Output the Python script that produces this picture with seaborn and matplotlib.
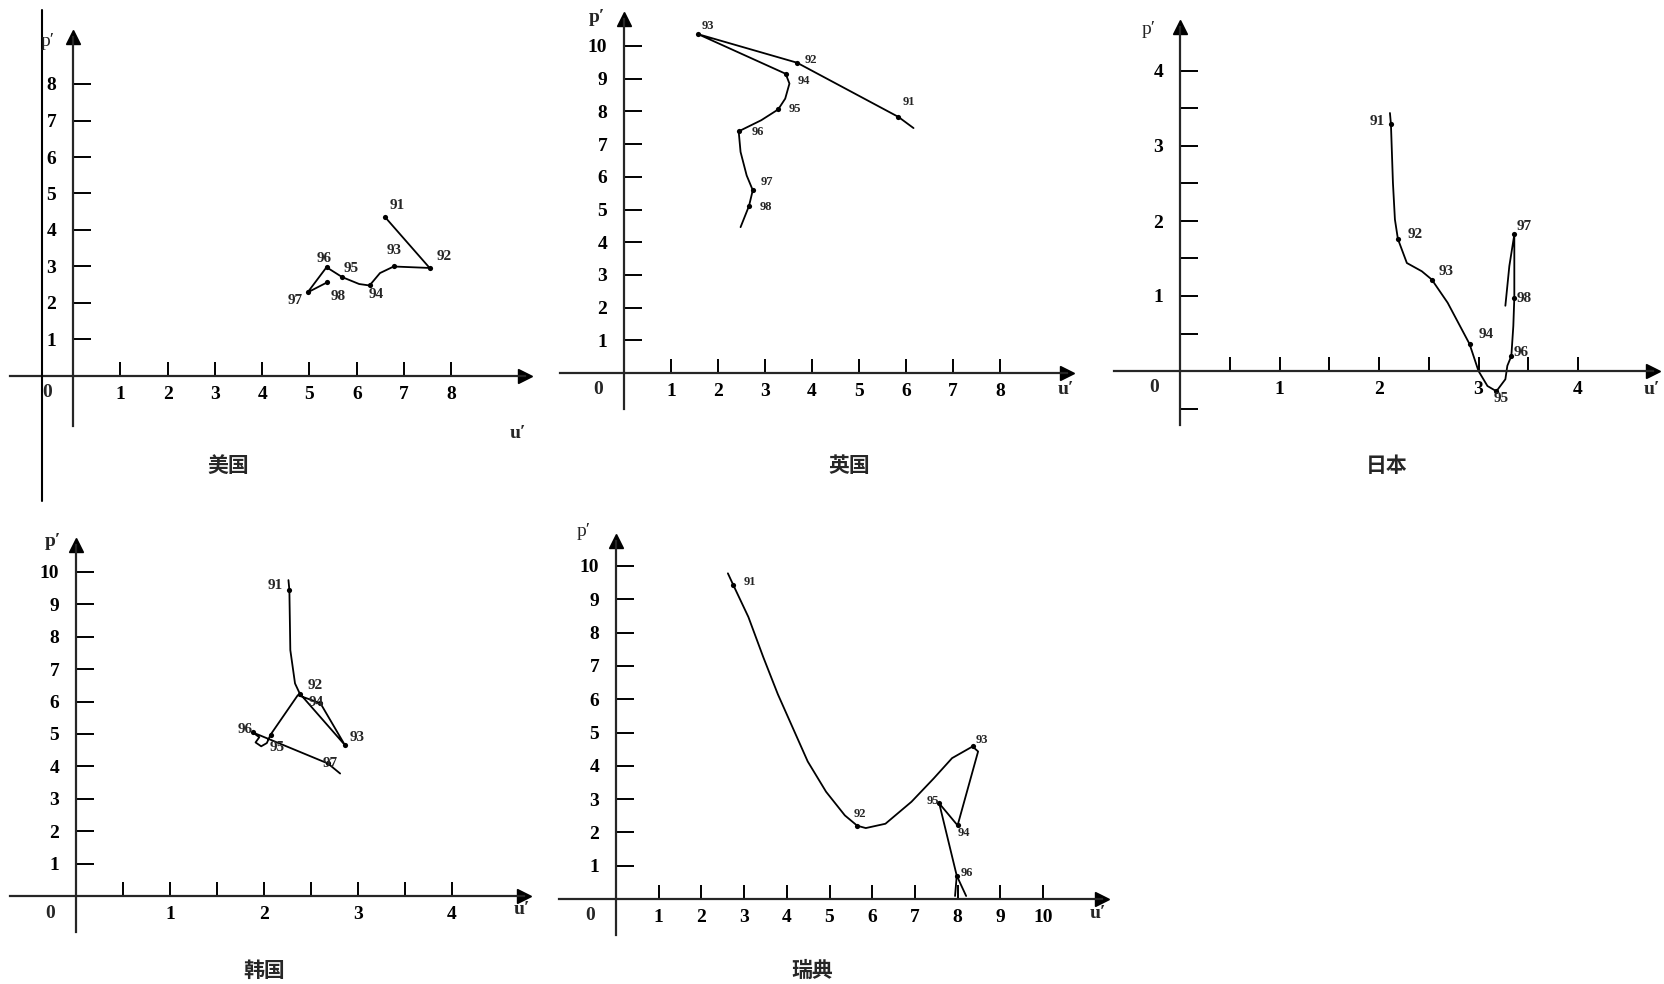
import pandas as pd
import matplotlib.pyplot as plt
from matplotlib.lines import Line2D
import seaborn as sns

# 美国 (u' = unemployment change, p' = inflation)
us_u = [6.60, 7.54, 6.78, 6.49, 6.27, 6.05, 5.69, 5.36, 4.96, 5.38]
us_p = [4.35, 2.96, 3.00, 2.82, 2.48, 2.52, 2.71, 2.98, 2.29, 2.57]
us_lab = ["91", "92", "93", "", "94", "", "95", "96", "97", "98"]

# 英国
uk_u = [6.16, 5.84, 3.68, 1.58, 3.44, 3.52, 3.43, 3.28, 2.92, 2.44, 2.48, 2.61, 2.74, 2.66, 2.48]
uk_p = [7.49, 7.83, 9.49, 10.36, 9.15, 8.85, 8.39, 8.06, 7.73, 7.39, 6.76, 6.04, 5.59, 5.11, 4.46]
uk_lab = ["", "91", "92", "93", "94", "", "", "95", "", "96", "", "", "97", "98", ""]

# 日本
jp_u = [2.11, 2.12, 2.14, 2.16, 2.19, 2.28, 2.43, 2.53, 2.69, 2.91, 3.00, 3.09, 3.18,
        3.27, 3.29, 3.33, 3.35, 3.36, 3.36, 3.31, 3.27]
jp_p = [3.44, 3.29, 2.51, 2.02, 1.76, 1.44, 1.33, 1.22, 0.91, 0.36, 0.00, -0.20, -0.27,
        -0.11, 0.07, 0.20, 0.60, 0.98, 1.82, 1.40, 0.87]
jp_lab = ["", "91", "", "", "92", "", "", "93", "", "94", "", "", "95",
          "", "", "96", "", "98", "97", "", ""]

# 韩国
kr_u = [2.26, 2.27, 2.28, 2.33, 2.38, 2.86, 2.60, 2.36, 2.07, 2.03, 1.97, 1.91, 1.95, 1.88, 2.68, 2.81]
kr_p = [9.75, 9.44, 7.59, 6.56, 6.25, 4.66, 5.95, 6.20, 4.98, 4.72, 4.62, 4.74, 4.90, 5.05, 4.09, 3.78]
kr_lab = ["", "91", "", "", "92", "93", "94", "", "95", "", "", "", "", "96", "97", ""]

# 瑞典
se_u = [2.62, 2.75, 3.10, 3.45, 3.79, 4.14, 4.49, 4.92, 5.36, 5.65, 5.85, 6.31, 6.92,
        7.44, 7.87, 8.35, 8.48, 8.00, 7.57, 7.98, 8.20]
se_p = [9.78, 9.42, 8.47, 7.26, 6.15, 5.14, 4.13, 3.22, 2.51, 2.20, 2.13, 2.26, 2.92,
        3.62, 4.23, 4.58, 4.43, 2.21, 2.87, 0.70, 0.09]
se_lab = ["", "91", "", "", "", "", "", "", "", "92", "", "", "",
          "", "", "93", "", "94", "95", "96", ""]
se_branch_u = [7.98, 7.94]
se_branch_p = [0.70, 0.09]

W, H = 1664, 984

sns.set_style("white")
plt.rcParams['font.family'] = ['Liberation Serif', 'Noto Sans CJK SC', 'DejaVu Serif']

fig = plt.figure(figsize=(W / 100, H / 100), dpi=100)


def fig_text(x, y, s, **kw):
    fig.text(x / W, 1 - y / H, s, ha="center", va="center", **kw)


def panel(box, origin, unit, xticks, xlabels, yticks, ylabels):
    x0, x1, yt, yb = box
    # leave room so the arrow tips end where the drawn axes end
    x1, yt = x1 - 7, yt + 7
    ax = fig.add_axes([x0 / W, 1 - yb / H, (x1 - x0) / W, (yb - yt) / H])
    ax.set_xlim((x0 - origin[0]) / unit[0], (x1 - origin[0]) / unit[0])
    ax.set_ylim((origin[1] - yb) / unit[1], (origin[1] - yt) / unit[1])
    ax.patch.set_alpha(0)
    for s in ["top", "right"]:
        ax.spines[s].set_visible(False)
    ax.spines["left"].set_position(("data", 0))
    ax.spines["bottom"].set_position(("data", 0))
    for s in ["left", "bottom"]:
        ax.spines[s].set_linewidth(1.6)
    ax.set_xticks(xticks, xlabels)
    ax.set_yticks(yticks, ylabels)
    ax.tick_params(direction="in", width=1.4, colors="k", labelsize=14, bottom=True, left=True)
    ax.tick_params(axis="y", length=13, pad=12)
    ax.tick_params(axis="x", length=10, pad=7)
    for t in ax.get_xticklabels() + ax.get_yticklabels():
        t.set_fontweight("bold")
    ax.plot(0, 1, marker="^", ms=10, color="k", transform=ax.get_xaxis_transform(), clip_on=False)
    ax.plot(1, 0, marker=">", ms=10, color="k", transform=ax.get_yaxis_transform(), clip_on=False)
    ax.annotate("0", (0, 0), xytext=(-26, -17), textcoords="offset pixels",
                ha="center", va="center", fontsize=14, fontweight="bold")
    return ax


def curve(ax, u, p, lab, offs, fs):
    df = pd.DataFrame({"u": u, "p": p, "lab": lab})
    sns.lineplot(data=df, x="u", y="p", sort=False, estimator=None, color="k", lw=1.3, ax=ax)
    pts = df[df["lab"] != ""]
    sns.scatterplot(data=pts, x="u", y="p", color="k", s=14, linewidth=0, ax=ax)
    for _, r in pts.iterrows():
        ax.annotate(r["lab"], (r["u"], r["p"]), xytext=offs[r["lab"]], textcoords="offset pixels",
                    ha="center", va="center", fontsize=fs, fontweight="bold")
    ax.set_xlabel("")
    ax.set_ylabel("")


def ints(a, b):
    return list(range(a, b + 1)), [str(i) for i in range(a, b + 1)]


def halves(a, b):
    t = [i / 2 for i in range(a, b + 1) if i != 0]
    return t, [str(int(v)) if v == int(v) and v > 0 else "" for v in t]


# 美国
xt, xl = ints(1, 8)
yt, yl = ints(1, 8)
ax = panel((10, 532, 30, 426), (73, 376), (47.3, 36.5), xt, xl, yt, yl)
curve(ax, us_u, us_p, us_lab, {"91": (12, 12), "92": (15, 11), "93": (0, 16), "94": (7, -9),
                               "95": (9, 9), "96": (-2, 9), "97": (-12, -8), "98": (11, -14)}, 11)
fig.add_artist(Line2D([42 / W, 42 / W], [1 - 10 / H, 1 - 501 / H], color="k", lw=1.5))
fig_text(48, 42, "p′", fontsize=14)
fig_text(518, 433, "u′", fontsize=14, fontweight="bold")
fig_text(228, 465, "美国", fontsize=15, fontweight="bold", family="Noto Sans CJK SC")

# 英国
xt, xl = ints(1, 8)
yt, yl = ints(1, 10)
ax = panel((560, 1074, 12, 409), (624, 373), (47, 32.7), xt, xl, yt, yl)
curve(ax, uk_u, uk_p, uk_lab, {"91": (10, 15), "92": (14, 3), "93": (10, 8), "94": (18, -7),
                               "95": (17, 0), "96": (19, -1), "97": (14, 8), "98": (17, -1)}, 9)
fig_text(597, 17, "p′", fontsize=14, fontweight="bold")
fig_text(1066, 389, "u′", fontsize=14, fontweight="bold")
fig_text(849, 465, "英国", fontsize=15, fontweight="bold", family="Noto Sans CJK SC")

# 日本
xt, xl = halves(1, 8)
yt, yl = halves(-1, 8)
ax = panel((1114, 1660, 20, 425), (1180, 371), (99.5, 75), xt, xl, yt, yl)
curve(ax, jp_u, jp_p, jp_lab, {"91": (-14, 3), "92": (17, 5), "93": (14, 8), "94": (17, 10),
                               "95": (5, -7), "96": (10, 3), "97": (10, 8), "98": (10, -1)}, 11)
fig_text(1149, 30, "p′", fontsize=14)
fig_text(1652, 390, "u′", fontsize=14, fontweight="bold")
fig_text(1387, 465, "日本", fontsize=15, fontweight="bold", family="Noto Sans CJK SC")

# 韩国
xt, xl = halves(1, 8)
yt, yl = ints(1, 10)
ax = panel((10, 531, 538, 932), (76, 896), (94, 32.4), xt, xl, yt, yl)
curve(ax, kr_u, kr_p, kr_lab, {"91": (-14, 5), "92": (15, 8), "93": (12, 8), "94": (-4, 1),
                               "95": (7, -13), "96": (-8, 3), "97": (2, 0)}, 11)
fig_text(53, 541, "p′", fontsize=14, fontweight="bold")
fig_text(522, 910, "u′", fontsize=14, fontweight="bold")
fig_text(264, 970, "韩国", fontsize=15, fontweight="bold", family="Noto Sans CJK SC")

# 瑞典
xt, xl = ints(1, 10)
yt, yl = ints(1, 10)
ax = panel((559, 1109, 534, 935), (616, 899), (42.7, 33.3), xt, xl, yt, yl)
curve(ax, se_u, se_p, se_lab, {"91": (16, 3), "92": (3, 12), "93": (9, 6), "94": (6, -8),
                               "95": (-6, 2), "96": (10, 3)}, 9)
sns.lineplot(x=se_branch_u, y=se_branch_p, sort=False, estimator=None, color="k", lw=1.3, ax=ax)
fig_text(584, 531, "p′", fontsize=14)
fig_text(1098, 914, "u′", fontsize=14, fontweight="bold")
fig_text(812, 970, "瑞典", fontsize=15, fontweight="bold", family="Noto Sans CJK SC")

fig.savefig("out.png", dpi=100)
